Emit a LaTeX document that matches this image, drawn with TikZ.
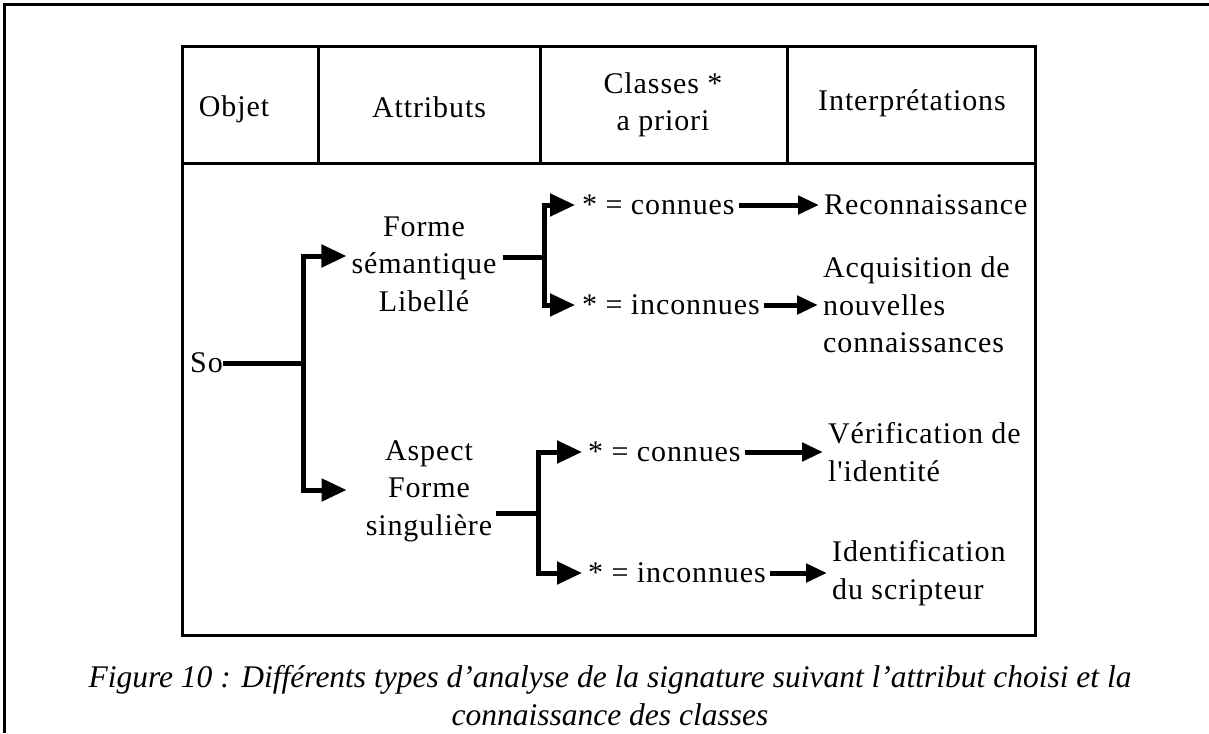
\documentclass[tikz,border=0pt]{standalone}
\usepackage{fontspec}
\setmainfont{Liberation Serif}
\newfontfamily\bodyf[LetterSpace=3]{Liberation Serif}
\usetikzlibrary{arrows.meta}
\begin{document}
\begin{tikzpicture}[x=1pt,y=-1pt,
  txt/.style={font=\bodyf\fontsize{30}{37.5}\selectfont, inner sep=0pt, align=center},
  rtxt/.style={txt, align=left, anchor=west},
  ln/.style={line width=5pt, line join=miter},
  arr/.style={line width=5pt, line join=miter, -{Triangle[length=25pt,width=22pt]}},
  rarr/.style={line width=5pt, -{Triangle[length=21pt,width=18pt]}, shorten <=4pt, shorten >=5pt},
  frame/.style={line width=3pt}]
\useasboundingbox (0,0) rectangle (1209,733);
% page frame (left and top only)
\draw[frame] (4,733) -- (4,5) -- (1209,5);
% table
\draw[frame] (182,47) rectangle (1035,635);
\draw[frame] (182,163) -- (1035,163);
\draw[frame] (318,47) -- (318,163);
\draw[frame] (540,47) -- (540,163);
\draw[frame] (787,47) -- (787,163);
% header
\node[txt] (hobj) at (234,109) {Objet};
\node[txt] (hatt) at (429,107) {Attributs};
\node[txt] (hcla) at (663,105) {Classes *\\a priori};
\node[txt] (hint) at (912,103) {Interprétations};
% diagram
\node[txt, anchor=east] (so) at (223,363) {So};
\coordinate (t0) at (303,363);
\draw[ln] (so.east) -- (t0);
\node[txt] (fs) at (424,264) {Forme\\sémantique\\Libellé};
\node[txt] (af) at (429,491) {Aspect\\Forme\\singulière};
\draw[arr] (t0) |- ([xshift=-5pt,yshift=8pt]fs.west);
\draw[arr] (t0) |- ([xshift=-19pt,yshift=1pt]af.west);
% upper branch
\node[txt, anchor=west] (c1) at (582,205) {* = connues};
\node[txt, anchor=west] (c2) at (582,305) {* = inconnues};
\coordinate (j1) at (544,257);
\draw[ln] ([xshift=6pt,yshift=7pt]fs.east) -- (j1);
\draw[arr] (j1) |- ([xshift=-7pt]c1.west);
\draw[arr] (j1) |- ([xshift=-7pt]c2.west);
\node[rtxt] (r1) at (824,205) {Reconnaissance};
\node[rtxt] (r2) at (823,305) {Acquisition de\\nouvelles\\connaissances};
\draw[rarr] (c1.east) -- (r1.west);
\draw[rarr] (c2.east) -- (r2.west);
% lower branch
\node[txt, anchor=west] (c3) at (588,452) {* = connues};
\node[txt, anchor=west] (c4) at (588,573) {* = inconnues};
\coordinate (j2) at (538,513);
\draw[ln] ([xshift=4pt,yshift=-22pt]af.east) -- (j2);
\draw[arr] (j2) |- ([xshift=-6pt]c3.west);
\draw[arr] (j2) |- ([xshift=-6pt]c4.west);
\node[rtxt] (r3) at (828,452) {Vérification de\\l'identité};
\node[rtxt] (r4) at (832,573) {Identification\\du scripteur};
\draw[rarr] (c3.east) -- (r3.west);
\draw[rarr] (c4.east) -- (r4.west);
% caption
\node[font=\itshape\fontsize{31.5}{38}\selectfont, align=center, inner sep=0pt] (cap) at (610,696)
  {Figure 10 : Différents types d’analyse de la signature suivant l’attribut choisi et la\\connaissance des classes};
\end{tikzpicture}
\end{document}
